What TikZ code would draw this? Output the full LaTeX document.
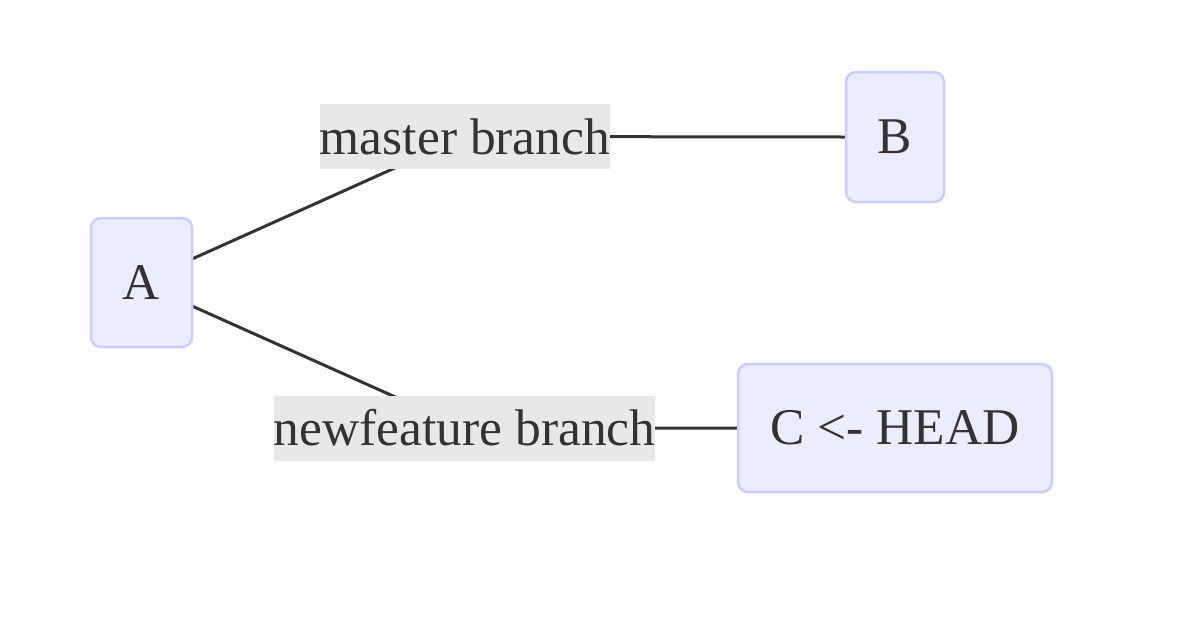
\documentclass[tikz,border=0pt]{standalone}
\usepackage{fontspec}
\setmainfont{Liberation Serif}
\usetikzlibrary{backgrounds}
\definecolor{nodefill}{HTML}{ECECFF}
\definecolor{nodeline}{HTML}{CCCCFF}
\definecolor{txt}{HTML}{333333}
\definecolor{lblbg}{HTML}{E8E8E8}
\begin{document}
\begin{tikzpicture}[x=1pt,y=-1pt,
  box/.style={draw=nodeline, fill=nodefill, line width=2.5pt, rounded corners=10pt, text=txt, font=\fontsize{51.5}{56}\selectfont, inner sep=0pt, anchor=center},
  lbl/.style={fill=lblbg, text=txt, font=\fontsize{51.5}{56}\selectfont, inner sep=0pt, minimum height=65pt, anchor=center},
  edge/.style={draw=txt, line width=3pt, line join=round}]
\useasboundingbox (0,0) rectangle (1200,630);
\node[box, minimum width=101pt, minimum height=129pt] (A) at (141.5,282.5) {A};
\node[box, minimum width=98pt, minimum height=130pt] (B) at (895,137) {B};
\node[box, minimum width=314pt, minimum height=128pt] (C) at (895,428) {C <- HEAD};
\node[lbl, minimum width=290pt] (L1) at (465,136.5) {master branch};
\node[lbl, minimum width=381pt] (L2) at (464.5,428) {newfeature branch};
\coordinate (a1) at (192,259);
\coordinate (a2) at (192,306);
\begin{scope}[on background layer]
\draw[edge] (a1) -- (L1.center) -- (B.west);
\draw[edge] (a2) -- (L2.center) -- (C.west);
\end{scope}
\end{tikzpicture}
\end{document}
